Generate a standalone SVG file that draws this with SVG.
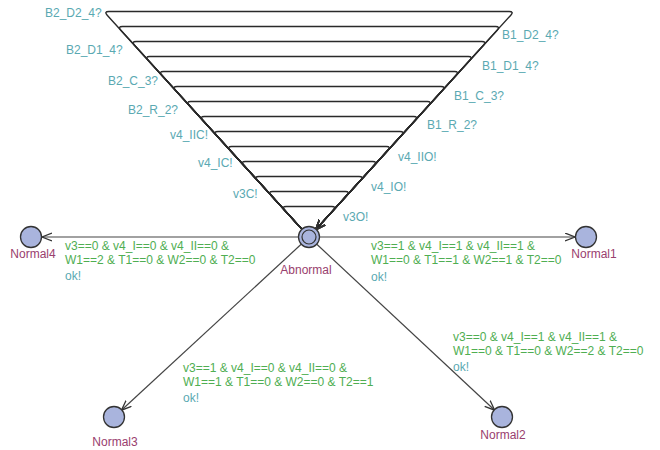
<svg xmlns="http://www.w3.org/2000/svg" width="660" height="450" viewBox="0 0 660 450">
<style>
text{font-family:"Liberation Sans",Arial,sans-serif;font-size:12px}
.nm{fill:#99406e;text-anchor:middle}
.sy{fill:#5aa9b2}
.gd{fill:#4fae52}
.loop{fill:none;stroke:#2a2a2a;stroke-width:1.4;stroke-linejoin:round}
.edge{fill:none;stroke:#444;stroke-width:1.2}
.node{fill:#a9b4dd;stroke:#333;stroke-width:1.3}
</style>
<defs>
<marker id="ar" markerUnits="userSpaceOnUse" markerWidth="12" markerHeight="10" refX="10" refY="4.5" orient="auto">
<path d="M0,0.5 L10,4.5 L0,8.5" fill="none" stroke="#333" stroke-width="1.3"/>
</marker>
</defs>
<rect width="660" height="450" fill="#fff"/>
<g id="connectors">
<path class="loop" marker-end="url(#ar)" d="M302.3,229.6 L107.2,15.2 Q103.8,11.5 108.8,11.5 L509.2,11.5 Q514.2,11.5 510.8,15.2 L315.7,229.6"/>
<path class="loop" marker-end="url(#ar)" d="M302.3,229.6 L120.8,30.2 Q117.4,26.5 122.4,26.5 L495.6,26.5 Q500.6,26.5 497.2,30.2 L315.7,229.6"/>
<path class="loop" marker-end="url(#ar)" d="M302.3,229.6 L134.5,45.2 Q131.1,41.5 136.1,41.5 L481.9,41.5 Q486.9,41.5 483.5,45.2 L315.7,229.6"/>
<path class="loop" marker-end="url(#ar)" d="M302.3,229.6 L148.1,60.2 Q144.7,56.5 149.7,56.5 L468.3,56.5 Q473.3,56.5 469.9,60.2 L315.7,229.6"/>
<path class="loop" marker-end="url(#ar)" d="M302.3,229.6 L161.8,75.2 Q158.4,71.5 163.4,71.5 L454.6,71.5 Q459.6,71.5 456.2,75.2 L315.7,229.6"/>
<path class="loop" marker-end="url(#ar)" d="M302.3,229.6 L175.4,90.2 Q172.0,86.5 177.0,86.5 L441.0,86.5 Q446.0,86.5 442.6,90.2 L315.7,229.6"/>
<path class="loop" marker-end="url(#ar)" d="M302.3,229.6 L189.1,105.2 Q185.7,101.5 190.7,101.5 L427.3,101.5 Q432.3,101.5 428.9,105.2 L315.7,229.6"/>
<path class="loop" marker-end="url(#ar)" d="M302.3,229.6 L202.7,120.2 Q199.3,116.5 204.3,116.5 L413.7,116.5 Q418.7,116.5 415.3,120.2 L315.7,229.6"/>
<path class="loop" marker-end="url(#ar)" d="M302.3,229.6 L216.4,135.2 Q213.0,131.5 218.0,131.5 L400.0,131.5 Q405.0,131.5 401.6,135.2 L315.7,229.6"/>
<path class="loop" marker-end="url(#ar)" d="M302.3,229.6 L230.0,150.2 Q226.6,146.5 231.6,146.5 L386.4,146.5 Q391.4,146.5 388.0,150.2 L315.7,229.6"/>
<path class="loop" marker-end="url(#ar)" d="M302.3,229.6 L243.7,165.2 Q240.3,161.5 245.3,161.5 L372.7,161.5 Q377.7,161.5 374.3,165.2 L315.7,229.6"/>
<path class="loop" marker-end="url(#ar)" d="M302.3,229.6 L257.3,180.2 Q253.9,176.5 258.9,176.5 L359.1,176.5 Q364.1,176.5 360.7,180.2 L315.7,229.6"/>
<path class="loop" marker-end="url(#ar)" d="M302.3,229.6 L271.0,195.2 Q267.6,191.5 272.6,191.5 L345.4,191.5 Q350.4,191.5 347.0,195.2 L315.7,229.6"/>
<path class="loop" marker-end="url(#ar)" d="M302.3,229.6 L284.6,210.2 Q281.2,206.5 286.2,206.5 L331.8,206.5 Q336.8,206.5 333.4,210.2 L315.7,229.6"/>
<path class="edge" marker-end="url(#ar)" d="M298,237 L42,237"/>
<path class="edge" marker-end="url(#ar)" d="M320,237 L575,237"/>
<path class="edge" marker-end="url(#ar)" d="M301.7,243.8 L121.4,410.2"/>
<path class="edge" marker-end="url(#ar)" d="M316.3,243.8 L494.7,410.2"/>
</g>
<g id="labels">
<text class="sy" x="45" y="17">B2_D2_4?</text>
<text class="sy" x="66" y="54">B2_D1_4?</text>
<text class="sy" x="108" y="85">B2_C_3?</text>
<text class="sy" x="128" y="114">B2_R_2?</text>
<text class="sy" x="170" y="139">v4_IIC!</text>
<text class="sy" x="198" y="167">v4_IC!</text>
<text class="sy" x="233" y="198">v3C!</text>
<text class="sy" x="502" y="39">B1_D2_4?</text>
<text class="sy" x="482" y="70">B1_D1_4?</text>
<text class="sy" x="454" y="100">B1_C_3?</text>
<text class="sy" x="427" y="129">B1_R_2?</text>
<text class="sy" x="398" y="161">v4_IIO!</text>
<text class="sy" x="371" y="191">v4_IO!</text>
<text class="sy" x="343" y="221">v3O!</text>
<text class="gd" x="65" y="250">v3==0 &amp; v4_I==0 &amp; v4_II==0 &amp;</text>
<text class="gd" x="65" y="264">W1==2 &amp; T1==0 &amp; W2==0 &amp; T2==0</text>
<text class="sy" x="65" y="280">ok!</text>
<text class="gd" x="371" y="250">v3==1 &amp; v4_I==1 &amp; v4_II==1 &amp;</text>
<text class="gd" x="371" y="264">W1==0 &amp; T1==1 &amp; W2==1 &amp; T2==0</text>
<text class="sy" x="371" y="281">ok!</text>
<text class="gd" x="183" y="372">v3==1 &amp; v4_I==0 &amp; v4_II==0 &amp;</text>
<text class="gd" x="183" y="386">W1==1 &amp; T1==0 &amp; W2==0 &amp; T2==1</text>
<text class="sy" x="183" y="402">ok!</text>
<text class="gd" x="453" y="341">v3==0 &amp; v4_I==1 &amp; v4_II==1 &amp;</text>
<text class="gd" x="453" y="355">W1==0 &amp; T1==0 &amp; W2==2 &amp; T2==0</text>
<text class="sy" x="453" y="371">ok!</text>
</g>
<g id="Abnormal">
<circle class="node" cx="309" cy="237" r="10.5"/>
<circle cx="309" cy="237" r="7" fill="none" stroke="#333" stroke-width="1.2"/>
<text class="nm" x="306" y="274">Abnormal</text>
</g>
<g id="Normal4">
<circle class="node" cx="31" cy="237" r="10.5"/>
<text class="nm" x="33" y="258">Normal4</text>
</g>
<g id="Normal1">
<circle class="node" cx="586" cy="237" r="10.5"/>
<text class="nm" x="594" y="258">Normal1</text>
</g>
<g id="Normal3">
<circle class="node" cx="114" cy="417" r="10.5"/>
<text class="nm" x="115" y="446">Normal3</text>
</g>
<g id="Normal2">
<circle class="node" cx="502" cy="417" r="10.5"/>
<text class="nm" x="503" y="439">Normal2</text>
</g>
</svg>
